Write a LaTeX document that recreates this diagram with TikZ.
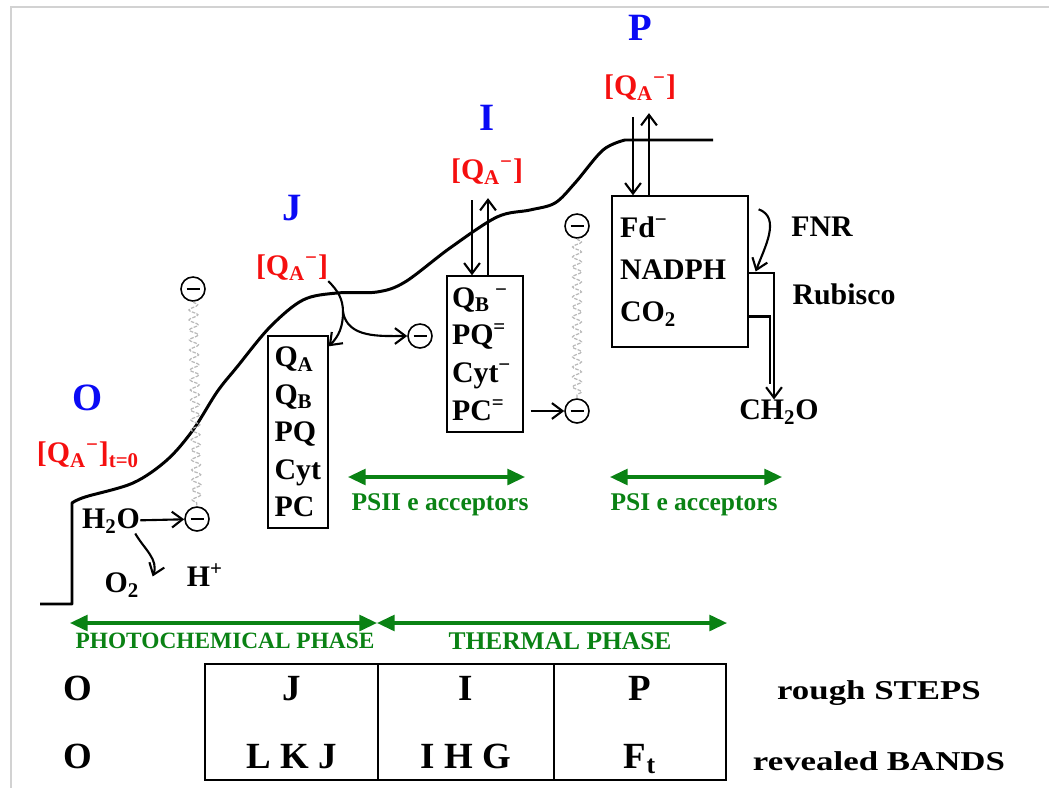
\documentclass[tikz,border=0pt]{standalone}
\usepackage{fontspec}
\setmainfont{Liberation Serif}
\newfontfamily\widefont[FakeStretch=1.28]{Liberation Serif}
\usetikzlibrary{arrows.meta,decorations.pathmorphing}

\definecolor{stepblue}{RGB}{10,10,245}
\definecolor{qared}{RGB}{245,15,15}
\definecolor{phasegreen}{RGB}{10,130,20}

\newcommand{\qaminus}{[Q\textsubscript{A}\textsuperscript{−}]}

\begin{document}
\begin{tikzpicture}[x=0.02cm,y=-0.02cm,
    every node/.style={inner sep=0pt, font=\bfseries\fontsize{17}{20}\selectfont},
    steplbl/.style={text=stepblue, font=\bfseries\fontsize{22}{24}\selectfont},
    qalbl/.style={text=qared},
    accbox/.style={draw, line width=0.8pt, align=left, inner ysep=0pt},
    elec/.style={draw, line width=0.9pt, circle, minimum size=0.48cm,
        path picture={\draw[line width=1pt] ([xshift=-0.13cm]path picture bounding box.center) -- ([xshift=0.13cm]path picture bounding box.center);}},
    wiggle/.style={gray!55, line width=0.7pt, dash pattern=on 2pt off 0.8pt, decorate,
        decoration={snake, amplitude=0.09cm, segment length=0.2cm}},
    arr/.style={line width=1.2pt, -{Straight Barb[length=6pt,width=9pt]}},
    phasearr/.style={phasegreen, line width=1.8pt, {Triangle[length=10pt,width=9pt]}-{Triangle[length=10pt,width=9pt]}},
    phaselbl/.style={text=phasegreen, font=\bfseries\fontsize{14.5}{16}\selectfont},
    cellbl/.style={anchor=base, font=\bfseries\fontsize{21}{24}\selectfont},
    sidelbl/.style={anchor=base, font=\widefont\bfseries\fontsize{15.5}{18}\selectfont}]

    \useasboundingbox (0,0) rectangle (1049,788);
    \draw[gray!35, line width=0.8pt] (11,788) -- (11,7) -- (1049,7);

    % fluorescence rise
    \draw[line width=1.7pt, line join=round] (40,604) -- (72,604) -- (72,503) -- plot[smooth, tension=0.55] coordinates {(72,503) (85,497) (133,483) (167,460) (193,430) (217,392) (237,367) (270,327) (303,300) (337,293) (377,292) (405,282) (450,248) (497,217) (530,210) (555,203) (575,183) (603,150) (625,140)} -- (713,140);

    % steps and reduced Q_A
    \node[steplbl] (stepO) at (88,398) {O};
    \node[qalbl] (qaO) at (88,455) {\qaminus\textsubscript{t=0}};
    \node[steplbl] (stepJ) at (292,208) {J};
    \node[qalbl] (qaJ) at (292,268) {\qaminus};
    \node[steplbl] (stepI) at (487,118) {I};
    \node[qalbl] (qaI) at (487,172) {\qaminus};
    \node[steplbl] (stepP) at (640,28) {P};
    \node[qalbl] (qaP) at (640,88) {\qaminus};

    % acceptor boxes
    \node[accbox, minimum height=3.84cm, text width=0.94cm, inner xsep=0.13cm,
        font=\bfseries\fontsize{17}{21.3}\selectfont] (boxI) at (298,432)
        {Q\textsubscript{A}\\Q\textsubscript{B}\\PQ\\Cyt\\PC};
    \node[accbox, minimum height=3.12cm, text width=1.32cm, inner xsep=0.1cm,
        font=\bfseries\fontsize{17}{21.4}\selectfont] (boxII) at (485,354)
        {Q\textsubscript{B}\,\textsuperscript{−}\\PQ\textsuperscript{=}\\Cyt\textsuperscript{−}\\PC\textsuperscript{=}};
    \node[accbox, minimum height=3.02cm, text width=2.4cm, inner xsep=0.16cm,
        font=\bfseries\fontsize{17}{24}\selectfont] (boxIII) at (680,271.5)
        {Fd\textsuperscript{−}\\NADPH\\CO\textsubscript{2}};

    % electrons
    \node[elec] (e1) at (193,289) {};
    \node[elec] (e2) at (197,519) {};
    \node[elec] (e3) at (420,336) {};
    \node[elec] (e4) at (577,226) {};
    \node[elec] (e5) at (577,411) {};
    \draw[wiggle] (e1) -- (e2);
    \draw[wiggle] (e4) -- (e5);

    \node (h2o) at (111,521) {H\textsubscript{2}O};
    \node (o2) at (122,585) {O\textsubscript{2}};
    \node (hplus) at (205,575) {H\textsuperscript{+}};
    \node (fnr) at (822,227) {FNR};
    \node (rubisco) at (844,294) {Rubisco};
    \node (ch2o) at (779,412) {CH\textsubscript{2}O};

    % electron flow
    \draw[arr] (h2o) -- (e2);
    \draw[arr] ([xshift=-0.1cm]h2o.south east) to[out=-60,in=70] ([xshift=0.26cm,yshift=-0.08cm]o2.north east);
    \coordinate (forkJ) at (343,312);
    \draw[arr] (qaJ.south east) to[out=-45,in=90] (forkJ) to[out=-90,in=45] ([yshift=-0.22cm]boxI.north east);
    \draw[arr] (forkJ) to[out=-80,in=180] (e3);
    \draw[arr] ([xshift=-0.3cm,yshift=-0.3cm]qaI.south) -- ([xshift=-0.3cm]qaI.south |- boxII.north);
    \draw[arr] ([xshift=0.02cm]qaI.south |- boxII.north) -- ([xshift=0.02cm,yshift=-0.26cm]qaI.south);
    \draw[arr] ([xshift=-0.14cm,yshift=-0.32cm]qaP.south) -- ([xshift=-0.14cm]qaP.south |- boxIII.north);
    \draw[arr] ([xshift=0.18cm]qaP.south |- boxIII.north) -- ([xshift=0.18cm,yshift=-0.24cm]qaP.south);
    \draw[arr] ([xshift=0.14cm]boxII.east |- e5) -- (e5);
    \draw[arr] ([xshift=0.2cm,yshift=-0.28cm]boxIII.north east) to[out=-20,in=70] ([xshift=0.14cm]boxIII.east);
    \draw[arr] ([yshift=-0.03cm]boxIII.east) -| ([xshift=-0.1cm]ch2o.north);
    \draw[line width=1.2pt] ([yshift=-0.9cm]boxIII.east) -| ([xshift=-0.18cm,yshift=0.3cm]ch2o.north);

    % acceptor ranges and phases
    \coordinate (psiiL) at (348,477);
    \coordinate (psiiR) at (525,477);
    \coordinate (psiL) at (610,477);
    \coordinate (psiR) at (782,477);
    \draw[phasearr] (psiiL) -- (psiiR);
    \draw[phasearr] (psiL) -- (psiR);
    \node[phaselbl] (psiilbl) at (440,505) {PSII e acceptors};
    \node[phaselbl] (psilbl) at (694,505) {PSI e acceptors};
    \coordinate (phL) at (70,623);
    \coordinate (phM) at (377,623);
    \coordinate (phR) at (727,623);
    \draw[phasearr] (phL) -- (phM);
    \draw[phasearr] (phM) -- (phR);
    \node[phaselbl, font=\bfseries\fontsize{13.3}{15}\selectfont] (photolbl) at (225,641) {PHOTOCHEMICAL PHASE};
    \node[phaselbl] (thermlbl) at (560,641) {THERMAL PHASE};

    % steps table
    \draw[line width=0.9pt] (205,664) rectangle (726,780);
    \draw[line width=0.9pt] (378,664) -- (378,780) (554,664) -- (554,780);
    \node[cellbl] (roughO) at (78,700) {O};
    \node[cellbl] (bandO) at (78,768) {O};
    \foreach \x/\n/\a/\b in {292/J/J/{L K J}, 466/I/I/{I H G}, 640/P/P/{F\textsubscript{t}}} {
        \node[cellbl] (rough\n) at (\x,700) {\a};
        \node[cellbl] (band\n) at (\x,768) {\b};
    }
    \node[sidelbl] (roughlbl) at (879,699) {rough STEPS};
    \node[sidelbl] (bandlbl) at (879,770) {revealed BANDS};
\end{tikzpicture}
\end{document}
